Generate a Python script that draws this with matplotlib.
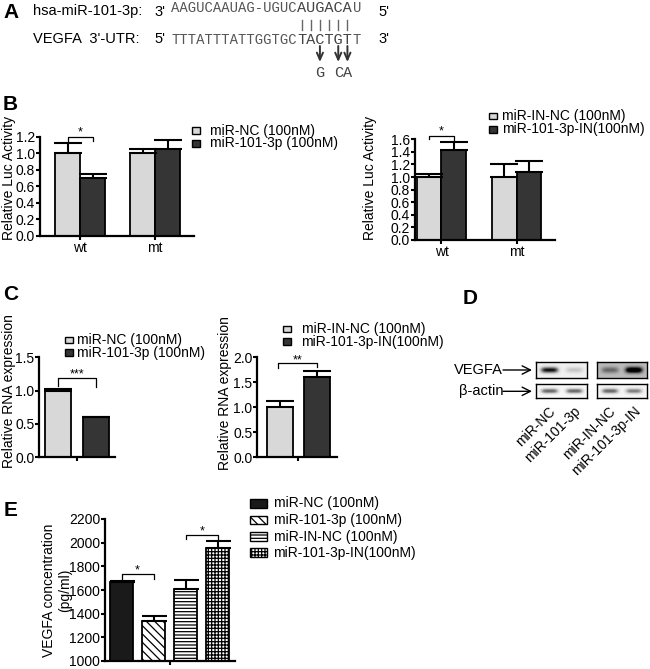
import matplotlib
matplotlib.use('Agg')
import matplotlib.pyplot as plt
from matplotlib.patches import Rectangle
import numpy as np

plt.rcParams['font.family'] = ['Liberation Sans', 'DejaVu Sans']
plt.rcParams['font.size'] = 10
plt.rcParams['hatch.linewidth'] = 0.9

W, H = 650, 669

# ---- data ----
luc_groups = ['wt', 'mt']
luc_mimic_nc = [1.00, 1.00]
luc_mimic_nc_err = [0.12, 0.05]
luc_mimic = [0.70, 1.05]
luc_mimic_err = [0.05, 0.11]

luc_inh_nc = [1.00, 1.00]
luc_inh_nc_err = [0.05, 0.20]
luc_inh = [1.43, 1.075]
luc_inh_err = [0.12, 0.18]

rna_mimic = [1.00, 0.60]
rna_mimic_err = [0.02, 0.01]
rna_inh = [1.00, 1.60]
rna_inh_err = [0.13, 0.12]

elisa_labels = ['miR-NC (100nM)', 'miR-101-3p (100nM)', 'miR-IN-NC (100nM)', 'miR-101-3p-IN(100nM)']
elisa_values = [1670, 1338, 1610, 1955]
elisa_err = [6, 40, 78, 57]

blot_lanes = ['miR-NC', 'miR-101-3p', 'miR-IN-NC', 'miR-101-3p-IN']
vegfa_band = [0.85, 0.22, 0.30, 0.88]
actin_band = [0.62, 0.62, 0.60, 0.52]

LIGHT = '#d8d8d8'
DARK = '#353535'

fig = plt.figure(figsize=(6.5, 6.69), dpi=100)

# overlay in pixel coordinates for free text
ax0 = fig.add_axes([0, 0, 1, 1])
ax0.set_xlim(0, W)
ax0.set_ylim(H, 0)
ax0.axis('off')
ax0.set_zorder(10)


def px_axes(left, top, right, bottom):
    ax = fig.add_axes([left / W, 1 - bottom / H, (right - left) / W, (bottom - top) / H])
    ax._px = (left, top, right, bottom)
    ax.patch.set_alpha(0)
    return ax


def style(ax):
    for s in ['top', 'right']:
        ax.spines[s].set_visible(False)
    for s in ['left', 'bottom']:
        ax.spines[s].set_linewidth(1.6)
    ax.tick_params(direction='out', length=3, width=1.5, labelsize=10, pad=0.5)


def ylabel_px(ax, text, x, y):
    l, t, r, b = ax._px
    ax.set_ylabel(text, fontsize=10, va='center', ha='center', multialignment='center')
    ax.yaxis.set_label_coords((x - l) / (r - l), (b - y) / (b - t))


def bracket(ax, x1, x2, yb, y1, y2, stars, ys):
    ax.plot([x1, x1, x2, x2], [y1, yb, yb, y2], color='k', lw=0.9, clip_on=False)
    ax.text((x1 + x2) / 2, ys, stars, ha='center', va='center', fontsize=9)


def legend_px(x, ys, w, h, tx, labels, faces, hatches=None, fs=10):
    for i, (yc, lab, fc) in enumerate(zip(ys, labels, faces)):
        hatch = hatches[i] if hatches else None
        ax0.add_patch(Rectangle((x, yc - h / 2), w, h, facecolor=fc, edgecolor='k',
                                lw=1, hatch=hatch))
        ax0.text(tx, yc, lab, va='center', ha='left', fontsize=fs)


ekw = dict(ecolor='k', elinewidth=1.5, capsize=10, capthick=1.5)

# ---- panel A: sequences ----
ax0.text(3, 12.5, 'A', fontsize=15, fontweight='bold', va='center')
ax0.text(33, 11.5, 'hsa-miR-101-3p:', fontsize=10.5, va='center')
ax0.text(33, 39, "VEGFA  3'-UTR:", fontsize=10.5, va='center')
ax0.text(154, 11.5, "3'", fontsize=10.5, va='center')
ax0.text(378, 11.5, "5'", fontsize=10.5, va='center')
ax0.text(154, 39, "5'", fontsize=10.5, va='center')
ax0.text(378, 39, "3'", fontsize=10.5, va='center')

mono = 'Liberation Mono'
seq_top = ['AAGUCAAUAG-UGUC', 'AUGACA', 'U']
seq_bot = ['TTTATTTATTGGTGC', 'TACTGT', 'T']
seed_x0 = 297.0
adv = 0.6 * 11 * 100 / 72          # advance of an 11 pt monospace glyph, px
seed_x = [seed_x0 + adv * (i + 0.5) for i in range(6)]
for row, yb in [(seq_top, 12.5), (seq_bot, 44.5)]:
    ax0.text(seed_x0, yb, row[0], family=mono, fontsize=10, color='#555555',
             va='baseline', ha='right')
    ax0.text(seed_x0, yb, row[1], family=mono, fontsize=11, color='#444444',
             va='baseline', ha='left')
    ax0.text(seed_x0 + 6 * adv + 0.5, yb, row[2], family=mono, fontsize=10, color='#555555',
             va='baseline', ha='left')
for cx in seed_x:
    ax0.plot([cx, cx], [19.5, 29.5], color='#666666', lw=1)

mutations = [(2, 'G'), (4, 'C'), (5, 'A')]
for idx, ch in mutations:
    cx = seed_x[idx]
    ax0.annotate('', xy=(cx, 62), xytext=(cx, 46),
                 arrowprops=dict(arrowstyle='->,head_length=0.5,head_width=0.22', lw=1.4,
                                 color='#333333', shrinkA=0, shrinkB=0))
    ax0.text(cx, 77, ch, family=mono, fontsize=11, color='#444444', va='baseline', ha='center')

# ---- panel B ----
ax0.text(3, 105, 'B', fontsize=15, fontweight='bold', va='center')
bw = 0.333
xg = np.arange(len(luc_groups))

axb1 = px_axes(40, 136.7, 194, 235.7)
axb1.bar(xg - bw / 2, luc_mimic_nc, bw, yerr=[np.zeros(2), luc_mimic_nc_err], color=LIGHT,
         edgecolor='k', lw=1.3, error_kw=ekw)
axb1.bar(xg + bw / 2, luc_mimic, bw, yerr=[np.zeros(2), luc_mimic_err], color=DARK,
         edgecolor='k', lw=1.3, error_kw=ekw)
axb1.set_xlim(-0.54, 1.52)
axb1.set_ylim(0, 1.2)
axb1.set_yticks(np.arange(0, 1.21, 0.2))
axb1.set_yticklabels(['%.1f' % v for v in np.arange(0, 1.21, 0.2)])
axb1.set_xticks(xg)
axb1.set_xticklabels(luc_groups)
style(axb1)
ylabel_px(axb1, 'Relative Luc Activity', 9.5, 178)
bracket(axb1, -bw / 2, bw / 2, 1.2, 1.15, 1.15, '*', 1.25)
legend_px(191.5, [130.5, 143.5], 8, 6.5, 210, ['miR-NC (100nM)', 'miR-101-3p (100nM)'],
          [LIGHT, DARK])

axb2 = px_axes(415, 139.3, 555, 240)
axb2.bar(xg - bw / 2, luc_inh_nc, bw, yerr=[np.zeros(2), luc_inh_nc_err], color=LIGHT,
         edgecolor='k', lw=1.3, error_kw=ekw)
axb2.bar(xg + bw / 2, luc_inh, bw, yerr=[np.zeros(2), luc_inh_err], color=DARK,
         edgecolor='k', lw=1.3, error_kw=ekw)
axb2.set_xlim(-0.353, 1.513)
axb2.set_ylim(0, 1.6)
axb2.set_yticks(np.arange(0, 1.61, 0.2))
axb2.set_yticklabels(['%.1f' % v for v in np.arange(0, 1.61, 0.2)])
axb2.set_xticks(xg)
axb2.set_xticklabels(luc_groups)
style(axb2)
ylabel_px(axb2, 'Relative Luc Activity', 370, 178)
bracket(axb2, -bw / 2, bw / 2, 1.65, 1.6, 1.57, '*', 1.72)
legend_px(489, [116, 129.3], 8, 6.5, 502, ['miR-IN-NC (100nM)', 'miR-101-3p-IN(100nM)'],
          [LIGHT, DARK])

# ---- panel C ----
ax0.text(3, 294, 'C', fontsize=15, fontweight='bold', va='center')
xc = np.arange(2)

axc1 = px_axes(39.3, 357.3, 115, 457.3)
axc1.bar(xc, rna_mimic, 0.69, yerr=[np.zeros(2), rna_mimic_err], color=[LIGHT, DARK],
         edgecolor='k', lw=1.3, error_kw=ekw)
axc1.set_xlim(-0.496, 1.51)
axc1.set_ylim(0, 1.5)
axc1.set_yticks([0, 0.5, 1.0, 1.5])
axc1.set_yticklabels(['0.0', '0.5', '1.0', '1.5'])
axc1.set_xticks([0.5])
axc1.set_xticklabels([''])
style(axc1)
ylabel_px(axc1, 'Relative RNA expression', 8.5, 391)
bracket(axc1, 0, 1, 1.19, 1.07, 1.06, '***', 1.24)
legend_px(65, [340, 352.5], 8, 6.5, 77, ['miR-NC (100nM)', 'miR-101-3p (100nM)'],
          [LIGHT, DARK])

axc2 = px_axes(257.3, 357.3, 337, 457.3)
axc2.bar(xc, rna_inh, 0.70, yerr=[np.zeros(2), rna_inh_err], color=[LIGHT, DARK],
         edgecolor='k', lw=1.3, error_kw=ekw)
axc2.set_xlim(-0.6, 1.54)
axc2.set_ylim(0, 2.0)
axc2.set_yticks([0, 0.5, 1.0, 1.5, 2.0])
axc2.set_yticklabels(['0.0', '0.5', '1.0', '1.5', '2.0'])
axc2.set_xticks([0.5])
axc2.set_xticklabels([''])
style(axc2)
ylabel_px(axc2, 'Relative RNA expression', 225, 393)
bracket(axc2, -0.05, 1.0, 1.88, 1.78, 1.80, '**', 1.93)
legend_px(283, [329, 341.7], 8, 6.5, 301.5, ['miR-IN-NC (100nM)', 'miR-101-3p-IN(100nM)'],
          [LIGHT, DARK])

# ---- panel D: western blot ----
ax0.text(470, 298, 'D', fontsize=15, fontweight='bold', va='center', ha='center')


def blot(ax, bands, bg):
    xs = np.linspace(0, 1, 120)
    ys = np.linspace(0, 1, 24)
    X, Y = np.meshgrid(xs, ys)
    img = np.full_like(X, bg)
    for c, b in zip([0.26, 0.74], bands):
        img += b * np.exp(-((X - c) / 0.17) ** 4) * np.exp(-((Y - 0.5) / 0.19) ** 2)
    ax.imshow(np.clip(img, 0, 1), cmap='Greys', vmin=0, vmax=1, aspect='auto',
              interpolation='bilinear')
    ax.set_xticks([])
    ax.set_yticks([])
    for s in ax.spines.values():
        s.set_linewidth(1.0)


boxes_x = [(535.7, 587.3), (596.7, 646.7)]
rows = [('VEGFA', vegfa_band, [0.12, 0.38], 362.3, 377.7),
        ('\u03b2-actin', actin_band, [0.06, 0.08], 384.3, 398.3)]
for name, bands, bgs, top, bot in rows:
    yc = (top + bot) / 2
    for k, (l, r) in enumerate(boxes_x):
        bax = px_axes(l, top, r, bot)
        blot(bax, bands[2 * k:2 * k + 2], bgs[k])
    ax0.text(503, yc, name, fontsize=10.5, ha='right', va='center')
    ax0.annotate('', xy=(532, yc), xytext=(503, yc),
                 arrowprops=dict(arrowstyle='->,head_length=0.6,head_width=0.3', lw=1,
                                 color='k', shrinkA=0, shrinkB=0))

lane_x = [548.6, 574.4, 609.2, 634.2]
for cx, lab in zip(lane_x, blot_lanes):
    ax0.text(cx + 7, 412, lab, fontsize=10, rotation=45, ha='right', va='baseline',
             rotation_mode='anchor')

# ---- panel E: ELISA ----
ax0.text(4, 510, 'E', fontsize=15, fontweight='bold', va='center')
xe = np.arange(len(elisa_values))
e_faces = ['#1a1a1a', 'white', 'white', 'white']
e_hatch = [None, '\\\\\\\\', '-----', '+++++']

axe = px_axes(105, 519, 235, 661)
bars = axe.bar(xe, elisa_values, 0.73, yerr=[np.zeros(4), elisa_err], color=e_faces,
               edgecolor='k', lw=1.3,
               error_kw=dict(ecolor='k', elinewidth=1.5, capsize=9, capthick=1.5))
for b, h in zip(bars, e_hatch):
    if h:
        b.set_hatch(h)
axe.set_xlim(-0.52, 3.54)
axe.set_ylim(1000, 2200)
axe.set_yticks(np.arange(1000, 2201, 200))
axe.set_xticks([1.5])
axe.set_xticklabels([''])
style(axe)
ylabel_px(axe, 'VEGFA concentration\n(pg/ml)', 57, 590)
bracket(axe, 0, 1, 1736, 1694, 1694, '*', 1765)
bracket(axe, 2, 3, 2065, 2030, 2030, '*', 2095)
legend_px(250, [503.3, 520, 536.5, 552.5], 16.5, 8.5, 273.5, elisa_labels, e_faces,
          e_hatch)

fig.savefig('out.png', dpi=100)
